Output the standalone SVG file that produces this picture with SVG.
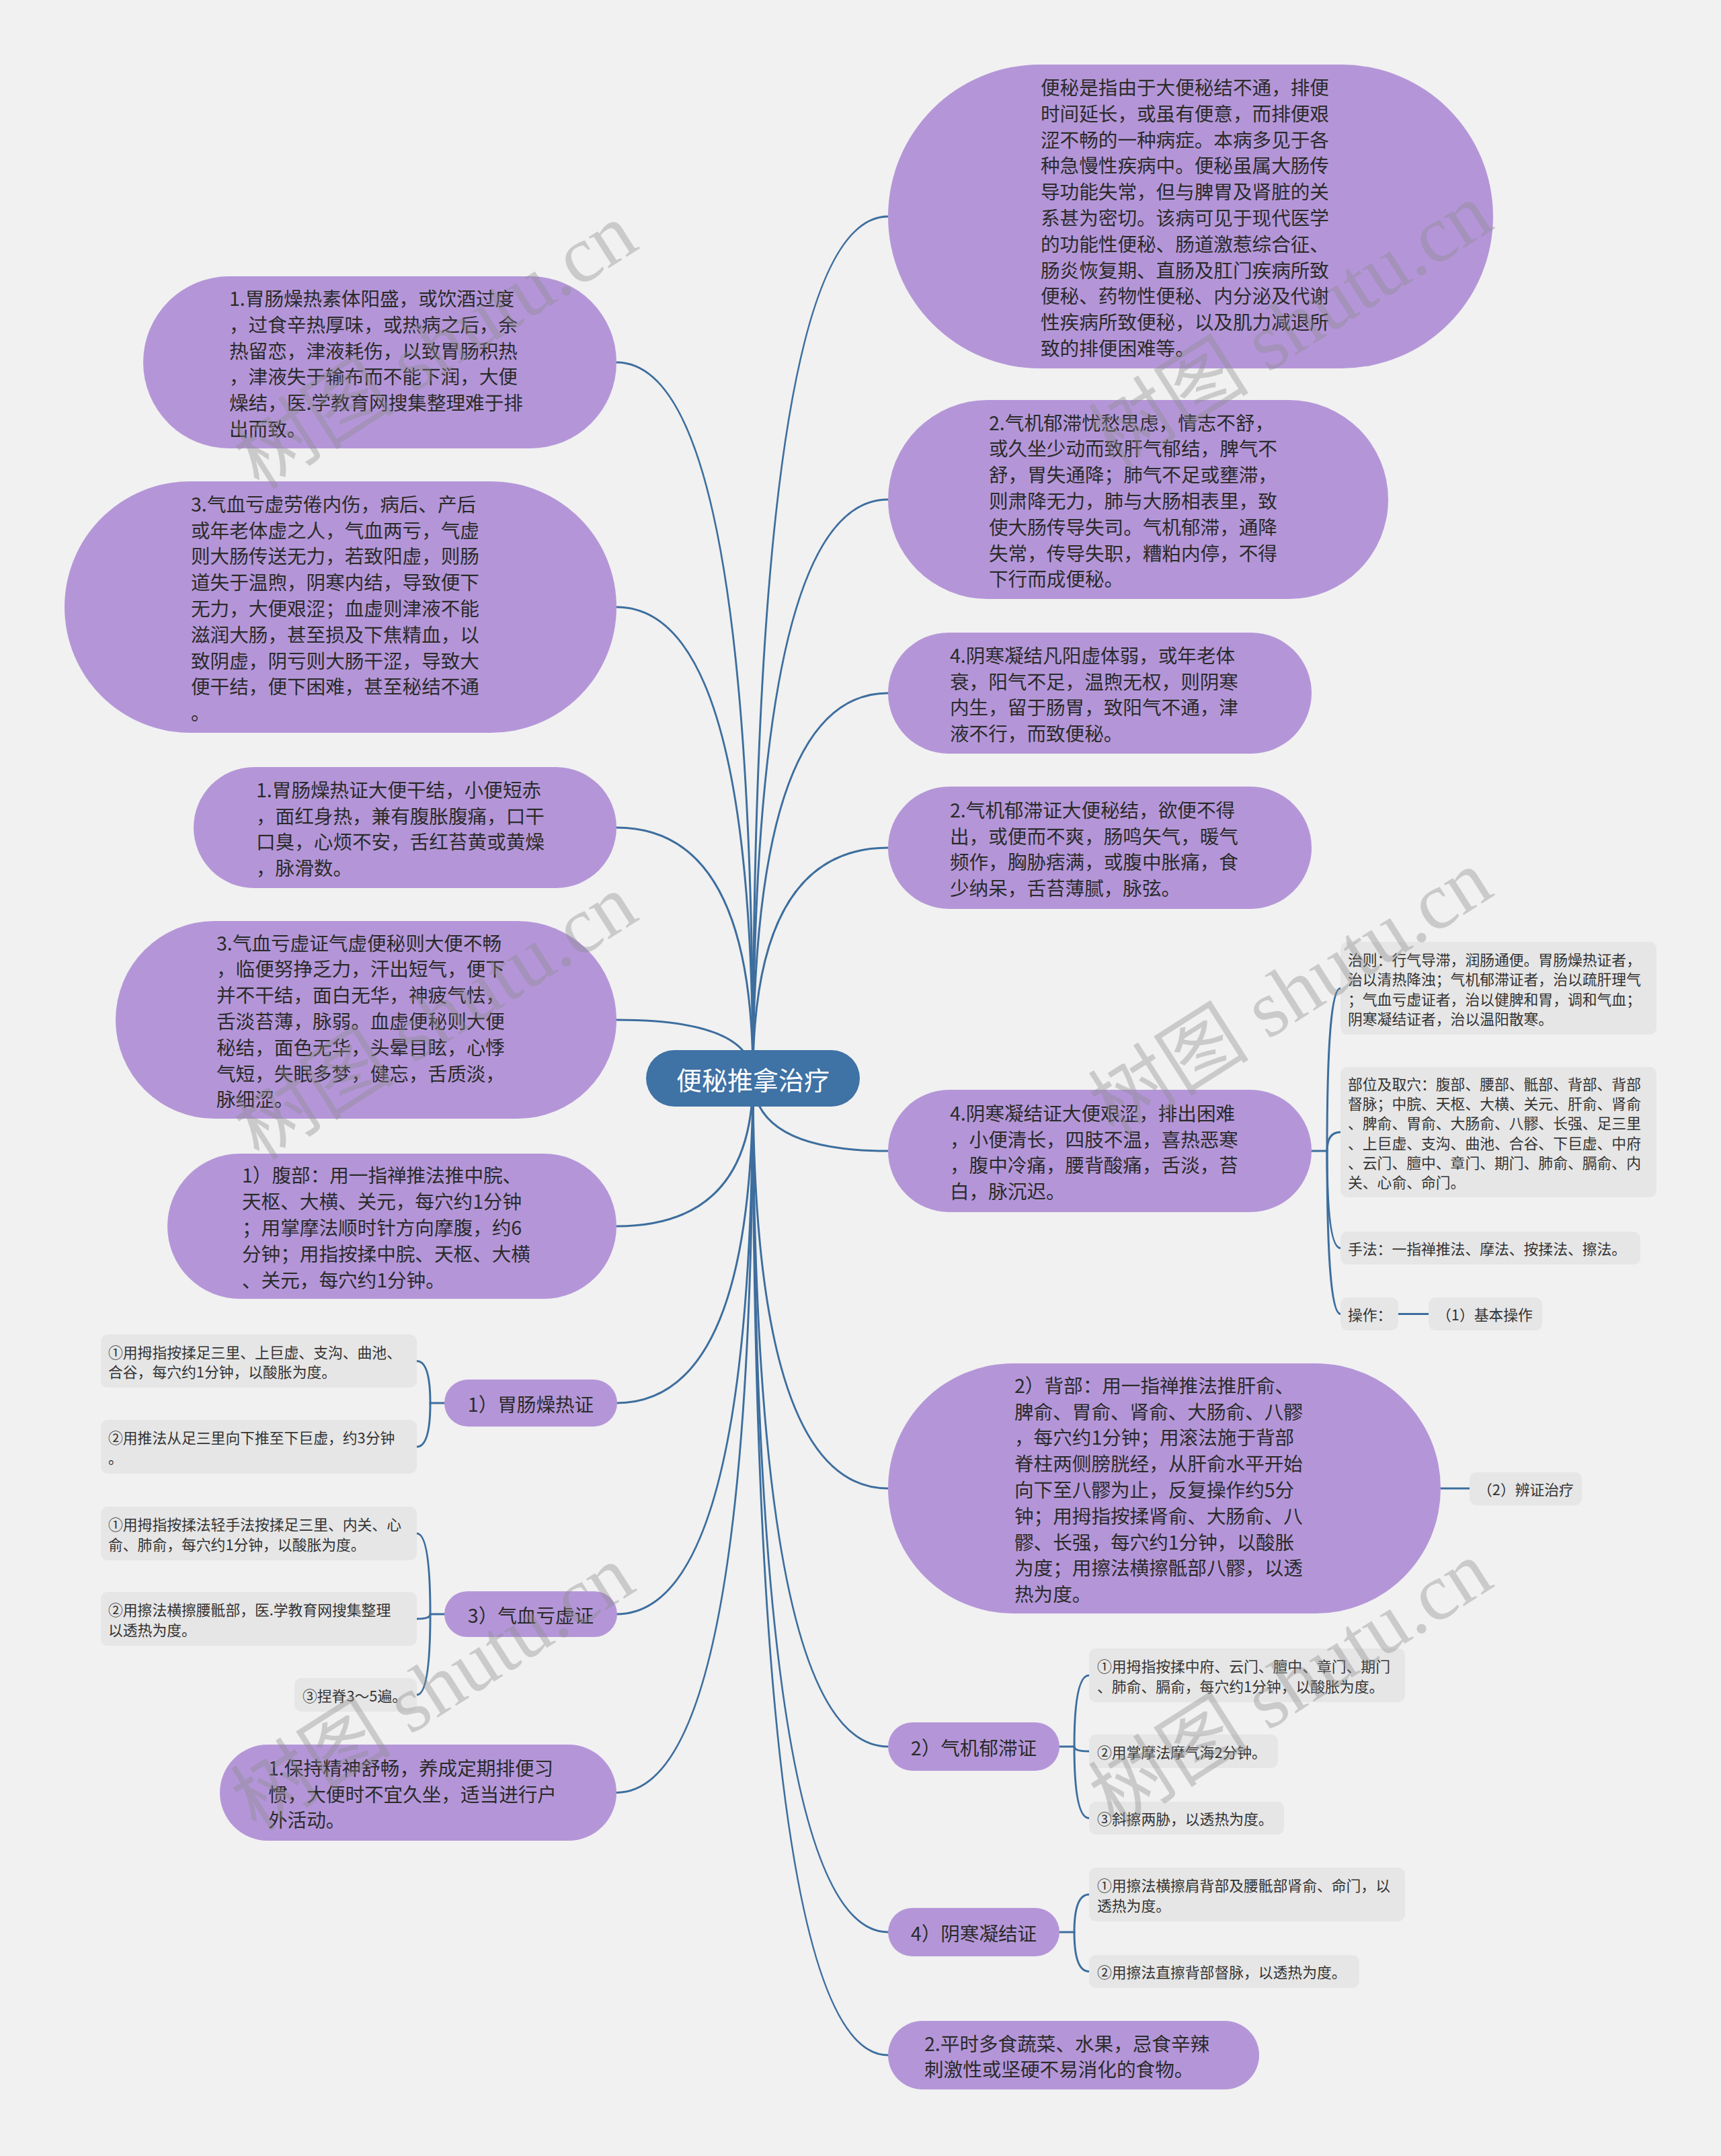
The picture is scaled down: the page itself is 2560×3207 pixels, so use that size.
<svg xmlns="http://www.w3.org/2000/svg" width="2560" height="3207" viewBox="0 0 2560 3207">
<style>
.bg{fill:#f1f1f1}
.n{fill:#b496d8}
.c{fill:#3f72a5}
.l{fill:#e6e6e6}
.k{fill:none;stroke:#3d6e9e;stroke-width:3;stroke-linecap:round}
text{font-family:"Noto Sans CJK SC","Noto Sans",sans-serif;dominant-baseline:central}
.t{font-size:28.6px;fill:#2b2b2b}
.tm{font-size:28.6px;fill:#2b2b2b;text-anchor:middle}
.s{font-size:21.8px;fill:#333}
.tc{font-size:38px;fill:#ffffff;text-anchor:middle}
.wm{font-family:"Liberation Serif","Noto Sans CJK SC",serif;font-size:120px;fill:#8c8c8c;fill-opacity:0.38;text-anchor:middle}
</style>
<rect class="bg" x="0" y="0" width="2560" height="3207"/>
<g id="connectors">
<path class="k" d="M1120 1603 Q1120 322 1321 322"/>
<path class="k" d="M1120 1603 Q1120 743 1321 743"/>
<path class="k" d="M1120 1603 Q1120 1031 1321 1031"/>
<path class="k" d="M1120 1603 Q1120 1261 1321 1261"/>
<path class="k" d="M1120 1603 Q1120 1712 1321 1712"/>
<path class="k" d="M1120 1603 Q1120 2214 1321 2214"/>
<path class="k" d="M1120 1603 Q1120 2598 1321 2598"/>
<path class="k" d="M1120 1603 Q1120 2874 1321 2874"/>
<path class="k" d="M1120 1603 Q1120 3057 1321 3057"/>
<path class="k" d="M1120 1603 Q1120 539 917 539"/>
<path class="k" d="M1120 1603 Q1120 903 917 903"/>
<path class="k" d="M1120 1603 Q1120 1231 917 1231"/>
<path class="k" d="M1120 1603 Q1120 1517 917 1517"/>
<path class="k" d="M1120 1603 Q1120 1824 917 1824"/>
<path class="k" d="M1120 1603 Q1120 2087 917 2087"/>
<path class="k" d="M1120 1603 Q1120 2401 917 2401"/>
<path class="k" d="M1120 1603 Q1120 2666.5 917 2666.5"/>
<path class="k" d="M1951 1712 L1974 1712 Q1974 1470 1994 1470"/>
<path class="k" d="M1974 1712 Q1974 1684 1994 1684"/>
<path class="k" d="M1974 1712 Q1974 1856.5 1994 1856.5"/>
<path class="k" d="M1974 1712 Q1974 1954.5 1994 1954.5"/>
<path class="k" d="M2080 1954.5 L2125 1954.5"/>
<path class="k" d="M2143 2214 L2186 2214"/>
<path class="k" d="M1576 2598 L1598 2598 Q1598 2492 1620 2492"/>
<path class="k" d="M1598 2598 Q1598 2605 1620 2605"/>
<path class="k" d="M1598 2598 Q1598 2704.5 1620 2704.5"/>
<path class="k" d="M1576 2874 L1598 2874 Q1598 2818 1620 2818"/>
<path class="k" d="M1598 2874 Q1598 2932.5 1620 2932.5"/>
<path class="k" d="M661 2087 L640 2087 Q640 2024.5 620 2024.5"/>
<path class="k" d="M640 2087 Q640 2152 620 2152"/>
<path class="k" d="M661 2401 L640 2401 Q640 2281 620 2281"/>
<path class="k" d="M640 2401 Q640 2408 620 2408"/>
<path class="k" d="M640 2401 Q640 2521 620 2521"/>
</g>
<g id="center"><rect class="c" x="961" y="1562" width="318" height="84" rx="42"/><text class="tc" x="1120" y="1604">便秘推拿治疗</text></g>
<g id="r1"><rect class="n" x="1321" y="96" width="900" height="452" rx="226"/>
<text class="t"><tspan x="1548" y="128">便秘是指由于大便秘结不通，排便</tspan><tspan x="1548" y="166.8">时间延长，或虽有便意，而排便艰</tspan><tspan x="1548" y="205.6">涩不畅的一种病症。本病多见于各</tspan><tspan x="1548" y="244.4">种急慢性疾病中。便秘虽属大肠传</tspan><tspan x="1548" y="283.2">导功能失常，但与脾胃及肾脏的关</tspan><tspan x="1548" y="322">系甚为密切。该病可见于现代医学</tspan><tspan x="1548" y="360.8">的功能性便秘、肠道激惹综合征、</tspan><tspan x="1548" y="399.6">肠炎恢复期、直肠及肛门疾病所致</tspan><tspan x="1548" y="438.4">便秘、药物性便秘、内分泌及代谢</tspan><tspan x="1548" y="477.2">性疾病所致便秘，以及肌力减退所</tspan><tspan x="1548" y="516">致的排便困难等。</tspan></text></g>
<g id="r2"><rect class="n" x="1321" y="595" width="744" height="296" rx="148"/>
<text class="t"><tspan x="1471" y="626.6">2.气机郁滞忧愁思虑，情志不舒，</tspan><tspan x="1471" y="665.4">或久坐少动而致肝气郁结，脾气不</tspan><tspan x="1471" y="704.2">舒，胃失通降；肺气不足或壅滞，</tspan><tspan x="1471" y="743">则肃降无力，肺与大肠相表里，致</tspan><tspan x="1471" y="781.8">使大肠传导失司。气机郁滞，通降</tspan><tspan x="1471" y="820.6">失常，传导失职，糟粕内停，不得</tspan><tspan x="1471" y="859.4">下行而成便秘。</tspan></text></g>
<g id="r3"><rect class="n" x="1321" y="941" width="630" height="180" rx="90"/>
<text class="t"><tspan x="1413" y="972.8">4.阴寒凝结凡阳虚体弱，或年老体</tspan><tspan x="1413" y="1011.6">衰，阳气不足，温煦无权，则阴寒</tspan><tspan x="1413" y="1050.4">内生，留于肠胃，致阳气不通，津</tspan><tspan x="1413" y="1089.2">液不行，而致便秘。</tspan></text></g>
<g id="r4"><rect class="n" x="1321" y="1170" width="630" height="182" rx="91"/>
<text class="t"><tspan x="1413" y="1202.8">2.气机郁滞证大便秘结，欲便不得</tspan><tspan x="1413" y="1241.6">出，或便而不爽，肠鸣矢气，暖气</tspan><tspan x="1413" y="1280.4">频作，胸胁痞满，或腹中胀痛，食</tspan><tspan x="1413" y="1319.2">少纳呆，舌苔薄腻，脉弦。</tspan></text></g>
<g id="r5"><rect class="n" x="1321" y="1621" width="630" height="182" rx="91"/>
<text class="t"><tspan x="1413" y="1653.8">4.阴寒凝结证大便艰涩，排出困难</tspan><tspan x="1413" y="1692.6">，小便清长，四肢不温，喜热恶寒</tspan><tspan x="1413" y="1731.4">，腹中冷痛，腰背酸痛，舌淡，苔</tspan><tspan x="1413" y="1770.2">白，脉沉迟。</tspan></text></g>
<g id="r5a"><rect class="l" x="1994" y="1401" width="470" height="138" rx="10"/>
<text class="s"><tspan x="2005" y="1426.2">治则：行气导滞，润肠通便。胃肠燥热证者，</tspan><tspan x="2005" y="1455.4">治以清热降浊；气机郁滞证者，治以疏肝理气</tspan><tspan x="2005" y="1484.6">；气血亏虚证者，治以健脾和胃，调和气血；</tspan><tspan x="2005" y="1513.8">阴寒凝结证者，治以温阳散寒。</tspan></text></g>
<g id="r5b"><rect class="l" x="1994" y="1587" width="470" height="194" rx="10"/>
<text class="s"><tspan x="2005" y="1611">部位及取穴：腹部、腰部、骶部、背部、背部</tspan><tspan x="2005" y="1640.2">督脉；中脘、天枢、大横、关元、肝俞、肾俞</tspan><tspan x="2005" y="1669.4">、脾俞、胃俞、大肠俞、八髎、长强、足三里</tspan><tspan x="2005" y="1698.6">、上巨虚、支沟、曲池、合谷、下巨虚、中府</tspan><tspan x="2005" y="1727.8">、云门、膻中、章门、期门、肺俞、膈俞、内</tspan><tspan x="2005" y="1757">关、心俞、命门。</tspan></text></g>
<g id="r5c"><rect class="l" x="1994" y="1832" width="446" height="49" rx="10"/><text class="s" x="2005" y="1856.5">手法：一指禅推法、摩法、按揉法、擦法。</text></g>
<g id="r5d"><rect class="l" x="1994" y="1930" width="86" height="49" rx="10"/><text class="s" x="2005" y="1954.5">操作：</text></g>
<g id="r5d1"><rect class="l" x="2125" y="1930" width="169" height="49" rx="10"/><text class="s" x="2137" y="1954.5">（1）基本操作</text></g>
<g id="r6"><rect class="n" x="1321" y="2028" width="822" height="372" rx="186"/>
<text class="t"><tspan x="1509" y="2058.8">2）背部：用一指禅推法推肝俞、</tspan><tspan x="1509" y="2097.6">脾俞、胃俞、肾俞、大肠俞、八髎</tspan><tspan x="1509" y="2136.4">，每穴约1分钟；用滚法施于背部</tspan><tspan x="1509" y="2175.2">脊柱两侧膀胱经，从肝俞水平开始</tspan><tspan x="1509" y="2214">向下至八髎为止，反复操作约5分</tspan><tspan x="1509" y="2252.8">钟；用拇指按揉肾俞、大肠俞、八</tspan><tspan x="1509" y="2291.6">髎、长强，每穴约1分钟，以酸胀</tspan><tspan x="1509" y="2330.4">为度；用擦法横擦骶部八髎，以透</tspan><tspan x="1509" y="2369.2">热为度。</tspan></text></g>
<g id="r6a"><rect class="l" x="2186" y="2190" width="167" height="49" rx="10"/><text class="s" x="2198" y="2214.5">（2）辨证治疗</text></g>
<g id="r7"><rect class="n" x="1321" y="2562" width="255" height="72" rx="36"/><text class="tm" x="1448.5" y="2598">2）气机郁滞证</text></g>
<g id="r7a"><rect class="l" x="1620" y="2452" width="470" height="80" rx="10"/>
<text class="s"><tspan x="1632" y="2477.4">①用拇指按揉中府、云门、膻中、章门、期门</tspan><tspan x="1632" y="2506.6">、肺俞、膈俞，每穴约1分钟，以酸胀为度。</tspan></text></g>
<g id="r7b"><rect class="l" x="1620" y="2580" width="281" height="50" rx="10"/><text class="s" x="1632" y="2605">②用掌摩法摩气海2分钟。</text></g>
<g id="r7c"><rect class="l" x="1620" y="2680" width="290" height="49" rx="10"/><text class="s" x="1632" y="2704.5">③斜擦两胁，以透热为度。</text></g>
<g id="r8"><rect class="n" x="1321" y="2838" width="255" height="72" rx="36"/><text class="tm" x="1448.5" y="2874">4）阴寒凝结证</text></g>
<g id="r8a"><rect class="l" x="1620" y="2778" width="470" height="80" rx="10"/>
<text class="s"><tspan x="1632" y="2803.4">①用擦法横擦肩背部及腰骶部肾俞、命门，以</tspan><tspan x="1632" y="2832.6">透热为度。</tspan></text></g>
<g id="r8b"><rect class="l" x="1620" y="2908" width="402" height="49" rx="10"/><text class="s" x="1632" y="2932.5">②用擦法直擦背部督脉，以透热为度。</text></g>
<g id="r9"><rect class="n" x="1321" y="3006" width="552" height="102" rx="51"/>
<text class="t"><tspan x="1375" y="3037.6">2.平时多食蔬菜、水果，忌食辛辣</tspan><tspan x="1375" y="3076.4">刺激性或坚硬不易消化的食物。</tspan></text></g>
<g id="l1"><rect class="n" x="213" y="411" width="704" height="256" rx="128"/>
<text class="t"><tspan x="341" y="442">1.胃肠燥热素体阳盛，或饮酒过度</tspan><tspan x="341" y="480.8">，过食辛热厚味，或热病之后，余</tspan><tspan x="341" y="519.6">热留恋，津液耗伤，以致胃肠积热</tspan><tspan x="341" y="558.4">，津液失于输布而不能下润，大便</tspan><tspan x="341" y="597.2">燥结，医.学教育网搜集整理难于排</tspan><tspan x="341" y="636">出而致。</tspan></text></g>
<g id="l2"><rect class="n" x="96" y="716" width="821" height="374" rx="187"/>
<text class="t"><tspan x="284" y="747.8">3.气血亏虚劳倦内伤，病后、产后</tspan><tspan x="284" y="786.6">或年老体虚之人，气血两亏，气虚</tspan><tspan x="284" y="825.4">则大肠传送无力，若致阳虚，则肠</tspan><tspan x="284" y="864.2">道失于温煦，阴寒内结，导致便下</tspan><tspan x="284" y="903">无力，大便艰涩；血虚则津液不能</tspan><tspan x="284" y="941.8">滋润大肠，甚至损及下焦精血，以</tspan><tspan x="284" y="980.6">致阴虚，阴亏则大肠干涩，导致大</tspan><tspan x="284" y="1019.4">便干结，便下困难，甚至秘结不通</tspan><tspan x="284" y="1058.2">。</tspan></text></g>
<g id="l3"><rect class="n" x="288" y="1141" width="629" height="180" rx="90"/>
<text class="t"><tspan x="381" y="1172.8">1.胃肠燥热证大便干结，小便短赤</tspan><tspan x="381" y="1211.6">，面红身热，兼有腹胀腹痛，口干</tspan><tspan x="381" y="1250.4">口臭，心烦不安，舌红苔黄或黄燥</tspan><tspan x="381" y="1289.2">，脉滑数。</tspan></text></g>
<g id="l4"><rect class="n" x="172" y="1370" width="745" height="294" rx="147"/>
<text class="t"><tspan x="322" y="1400.6">3.气血亏虚证气虚便秘则大便不畅</tspan><tspan x="322" y="1439.4">，临便努挣乏力，汗出短气，便下</tspan><tspan x="322" y="1478.2">并不干结，面白无华，神疲气怯，</tspan><tspan x="322" y="1517">舌淡苔薄，脉弱。血虚便秘则大便</tspan><tspan x="322" y="1555.8">秘结，面色无华，头晕目眩，心悸</tspan><tspan x="322" y="1594.6">气短，失眠多梦，健忘，舌质淡，</tspan><tspan x="322" y="1633.4">脉细涩。</tspan></text></g>
<g id="l5"><rect class="n" x="249" y="1716" width="668" height="216" rx="108"/>
<text class="t"><tspan x="360" y="1746.4">1）腹部：用一指禅推法推中脘、</tspan><tspan x="360" y="1785.2">天枢、大横、关元，每穴约1分钟</tspan><tspan x="360" y="1824">；用掌摩法顺时针方向摩腹，约6</tspan><tspan x="360" y="1862.8">分钟；用指按揉中脘、天枢、大横</tspan><tspan x="360" y="1901.6">、关元，每穴约1分钟。</tspan></text></g>
<g id="l6"><rect class="n" x="661" y="2052" width="257" height="70" rx="35"/><text class="tm" x="789.5" y="2087">1）胃肠燥热证</text></g>
<g id="l6a"><rect class="l" x="150" y="1985" width="470" height="79" rx="10"/>
<text class="s"><tspan x="161" y="2009.9">①用拇指按揉足三里、上巨虚、支沟、曲池、</tspan><tspan x="161" y="2039.1">合谷，每穴约1分钟，以酸胀为度。</tspan></text></g>
<g id="l6b"><rect class="l" x="150" y="2112" width="470" height="80" rx="10"/>
<text class="s"><tspan x="161" y="2137.4">②用推法从足三里向下推至下巨虚，约3分钟</tspan><tspan x="161" y="2166.6">。</tspan></text></g>
<g id="l7"><rect class="n" x="661" y="2367" width="257" height="68" rx="34"/><text class="tm" x="789.5" y="2401">3）气血亏虚证</text></g>
<g id="l7a"><rect class="l" x="150" y="2241" width="470" height="80" rx="10"/>
<text class="s"><tspan x="161" y="2266.4">①用拇指按揉法轻手法按揉足三里、内关、心</tspan><tspan x="161" y="2295.6">俞、肺俞，每穴约1分钟，以酸胀为度。</tspan></text></g>
<g id="l7b"><rect class="l" x="150" y="2368" width="470" height="80" rx="10"/>
<text class="s"><tspan x="161" y="2393.4">②用擦法横擦腰骶部，医.学教育网搜集整理</tspan><tspan x="161" y="2422.6">以透热为度。</tspan></text></g>
<g id="l7c"><rect class="l" x="438" y="2496" width="182" height="50" rx="10"/><text class="s" x="450" y="2521">③捏脊3～5遍。</text></g>
<g id="l8"><rect class="n" x="327" y="2595" width="590" height="143" rx="71.5"/>
<text class="t"><tspan x="399" y="2627.7">1.保持精神舒畅，养成定期排便习</tspan><tspan x="399" y="2666.5">惯，大便时不宜久坐，适当进行户</tspan><tspan x="399" y="2705.3">外活动。</tspan></text></g>
<g id="watermarks">
<text class="wm" transform="translate(648 515) rotate(-32.5)">树图 shutu.cn</text>
<text class="wm" transform="translate(1920 485) rotate(-32.5)">树图 shutu.cn</text>
<text class="wm" transform="translate(648 1513) rotate(-32.5)">树图 shutu.cn</text>
<text class="wm" transform="translate(1920 1477) rotate(-32.5)">树图 shutu.cn</text>
<text class="wm" transform="translate(644 2511) rotate(-32.5)">树图 shutu.cn</text>
<text class="wm" transform="translate(1920 2505) rotate(-32.5)">树图 shutu.cn</text>
</g>
</svg>
